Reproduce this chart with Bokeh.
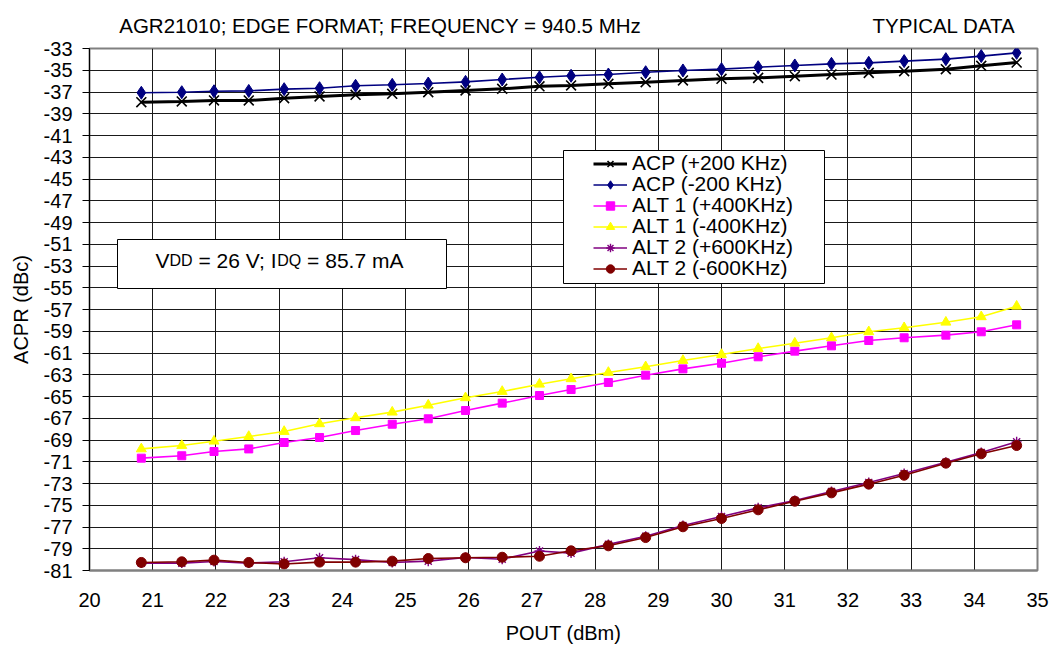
from bokeh.plotting import figure
from bokeh.models import (FixedTicker, Label, BoxAnnotation, Legend, LegendItem, Range1d, LinearAxis)
from bokeh.embed import file_html
from bokeh.resources import INLINE

# ---------------- data ----------------
pout = [20.82, 21.46, 21.97, 22.52, 23.08, 23.64, 24.21, 24.79, 25.36, 25.95, 26.53, 27.12, 27.62,
        28.21, 28.80, 29.39, 30.00, 30.58, 31.16, 31.74, 32.33, 32.89, 33.55, 34.11, 34.67]
acp_p200 = [-37.94, -37.87, -37.78, -37.78, -37.57, -37.41, -37.26, -37.17, -37.02, -36.86, -36.71, -36.48, -36.40,
            -36.25, -36.10, -35.94, -35.79, -35.70, -35.55, -35.39, -35.24, -35.09, -34.90, -34.59, -34.29]
acp_m200 = [-37.07, -37.02, -36.93, -36.90, -36.74, -36.65, -36.43, -36.34, -36.22, -36.07, -35.85, -35.65, -35.51,
            -35.39, -35.18, -35.02, -34.90, -34.72, -34.56, -34.41, -34.32, -34.16, -33.98, -33.70, -33.40]
alt1_p400 = [-70.67, -70.45, -70.06, -69.82, -69.23, -68.77, -68.13, -67.55, -67.05, -66.29, -65.61, -64.91, -64.36,
             -63.71, -63.04, -62.46, -61.94, -61.35, -60.83, -60.34, -59.85, -59.60, -59.36, -59.05, -58.41]
alt1_m400 = [-69.82, -69.51, -69.11, -68.68, -68.22, -67.51, -66.96, -66.44, -65.80, -65.12, -64.54, -63.87, -63.37,
             -62.79, -62.27, -61.69, -61.14, -60.59, -60.10, -59.60, -59.05, -58.68, -58.17, -57.67, -56.70]
alt2_p600 = [-80.32, -80.32, -80.17, -80.32, -80.20, -79.83, -80.00, -80.26, -80.14, -79.80, -79.96, -79.20, -79.40,
             -78.60, -77.85, -76.86, -76.03, -75.24, -74.56, -73.74, -72.90, -72.08, -71.04, -70.15, -69.17]
alt2_m600 = [-80.26, -80.20, -80.05, -80.26, -80.40, -80.23, -80.23, -80.14, -79.90, -79.83, -79.78, -79.69, -79.19,
             -78.73, -77.97, -76.98, -76.22, -75.42, -74.63, -73.86, -73.06, -72.24, -71.13, -70.27, -69.51]

series_labels = ["ACP (+200 KHz)", "ACP (-200 KHz)", "ALT 1 (+400KHz)", "ALT 1 (-400KHz)",
                 "ALT 2 (+600KHz)", "ALT 2 (-600KHz)"]
x_ticks = list(range(20, 36))
y_ticks = list(range(-81, -32, 2))
y_tick_labels = [str(v) for v in y_ticks]
header_texts = ["AGR21010; EDGE FORMAT; FREQUENCY = 940.5 MHz", "TYPICAL DATA"]
header_centers = [24.6, 33.52]   # horizontal placement of the header texts (layout only)

FONT = "Liberation Sans"

# Arial / Liberation Sans advance widths (per 1000 em) for laying out mixed-size text pieces
ADV = {'V': 667, 'D': 722, ' ': 278, '=': 584, '2': 556, '6': 556, ';': 278, 'I': 278, 'Q': 778,
       '8': 556, '5': 556, '.': 278, '7': 556, 'm': 833, 'A': 667}


def tw(s, size):
    return sum(ADV.get(c, 556) for c in s) * size / 1000.0


p = figure(frame_width=948, frame_height=522, output_backend="svg", toolbar_location=None,
           x_range=Range1d(20, 35), y_range=Range1d(-81, -33),
           min_border_left=89, min_border_right=15, min_border_top=48, min_border_bottom=72)
p.background_fill_color = "white"
p.border_fill_color = "white"
p.outline_line_color = "#808080"
p.outline_line_width = 2

# grid
for g in (p.xgrid, p.ygrid):
    g.grid_line_color = "#1a1a1a"
    g.grid_line_width = 1
p.xgrid.ticker = FixedTicker(ticks=x_ticks)
p.ygrid.ticker = FixedTicker(ticks=y_ticks)

# axes
p.xaxis.ticker = FixedTicker(ticks=x_ticks)
p.yaxis.ticker = FixedTicker(ticks=y_ticks)
p.yaxis.major_label_overrides = {v: l for v, l in zip(y_ticks, y_tick_labels)}
for ax in (p.xaxis[0], p.yaxis[0]):
    ax.major_label_text_font = FONT
    ax.major_label_text_font_size = "20px"
    ax.major_label_text_color = "black"
    ax.minor_tick_line_color = None
    ax.major_tick_in = 0
    ax.axis_label_text_font = FONT
    ax.axis_label_text_font_size = "20px"
    ax.axis_label_text_font_style = "normal"
    ax.axis_label_text_color = "black"
p.yaxis.axis_line_color = "black"
p.yaxis.major_tick_line_color = "black"
p.yaxis.major_tick_out = 7
p.yaxis.major_label_standoff = 10
p.yaxis.axis_label = "ACPR (dBc)"
p.yaxis.axis_label_standoff = 9
p.xaxis.axis_line_color = "#808080"
p.xaxis.axis_line_width = 2
p.xaxis.major_tick_out = 0
p.xaxis.major_tick_line_color = None
p.xaxis.major_label_standoff = 22
p.xaxis.axis_label = "POUT (dBm)"
p.xaxis.axis_label_standoff = 12

# header texts carried by an undecorated top axis
top_axis = LinearAxis(ticker=FixedTicker(ticks=header_centers),
                      major_label_overrides=dict(zip(header_centers, header_texts)),
                      axis_line_color=None, major_tick_line_color=None, minor_tick_line_color=None,
                      major_tick_in=0, major_tick_out=0, major_label_standoff=12,
                      major_label_text_font=FONT, major_label_text_font_size="20.5px",
                      major_label_text_color="black")
p.add_layout(top_axis, "above")

# series
r1l = p.line(pout, acp_p200, line_color="black", line_width=3)
r1m = p.scatter(pout, acp_p200, marker="x", size=14, line_color="black", line_width=1.6)
r2l = p.line(pout, acp_m200, line_color="#000080", line_width=1.6)
r2m = p.scatter(pout, acp_m200, marker="diamond", size=13, fill_color="#000080", line_color="#000080")
r3l = p.line(pout, alt1_p400, line_color="#FF00FF", line_width=1.6)
r3m = p.scatter(pout, alt1_p400, marker="square", size=8, fill_color="#FF00FF", line_color="#FF00FF")
r4l = p.line(pout, alt1_m400, line_color="#FFFF00", line_width=1.6)
r4m = p.scatter(pout, alt1_m400, marker="triangle", size=10, fill_color="#FFFF00", line_color="#FFFF00")
r5l = p.line(pout, alt2_p600, line_color="#800080", line_width=1.6)
r5m = p.scatter(pout, alt2_p600, marker="asterisk", size=10, line_color="#800080", line_width=1.4)
r6l = p.line(pout, alt2_m600, line_color="#800000", line_width=1.6)
r6m = p.scatter(pout, alt2_m600, marker="circle", size=10, fill_color="#800000", line_color="#800000")

pairs = [(r1l, r1m), (r2l, r2m), (r3l, r3m), (r4l, r4m), (r5l, r5m), (r6l, r6m)]

# legend frame (screen units, frame-relative)
p.add_layout(BoxAnnotation(left=474, right=735, bottom=287, top=420,
                           left_units="screen", right_units="screen",
                           bottom_units="screen", top_units="screen",
                           fill_color="white", fill_alpha=1.0,
                           line_color="black", line_width=1, line_alpha=1.0))

# one single-row legend per series, stacked 21 px apart inside the frame above
ROW_STEP, FIRST_ROW_Y = 21, 394.7
for k, (lab, rs) in enumerate(zip(series_labels, pairs)):
    lg = Legend(items=[LegendItem(label=lab, renderers=list(rs))],
                location=(504, FIRST_ROW_Y - ROW_STEP * k), padding=0, margin=0, spacing=0,
                glyph_width=34, glyph_height=21, label_height=21, label_standoff=5,
                label_text_font=FONT, label_text_font_size="21px", label_text_color="black",
                border_line_alpha=0, background_fill_alpha=0)
    p.add_layout(lg, "center")

# VDD/IDQ annotation box
p.add_layout(BoxAnnotation(left=28, right=357, bottom=282, top=331,
                           left_units="screen", right_units="screen",
                           bottom_units="screen", top_units="screen",
                           fill_color="white", fill_alpha=1.0,
                           line_color="black", line_width=1, line_alpha=1.0))


def pieces(parts, x0, y0):
    x = x0
    for s, size in parts:
        lead = len(s) - len(s.lstrip(" "))
        x += tw(" " * lead, size)
        txt = s.strip(" ")
        p.add_layout(Label(x=x, y=y0, x_units="screen", y_units="screen", text=txt,
                           text_font=FONT, text_font_size=f"{size}px", text_color="black",
                           text_align="left", text_baseline="alphabetic"))
        x += tw(txt, size)
        trail = len(s) - len(s.rstrip(" "))
        x += tw(" " * trail, size)


BIG, SMALL = 21, 16
pieces([("V", BIG), ("DD", SMALL), (" = 26 V; I", BIG), ("DQ", SMALL), (" = 85.7 mA", BIG)], 66, 310)

open("out.html", "w").write(file_html(p, INLINE))
